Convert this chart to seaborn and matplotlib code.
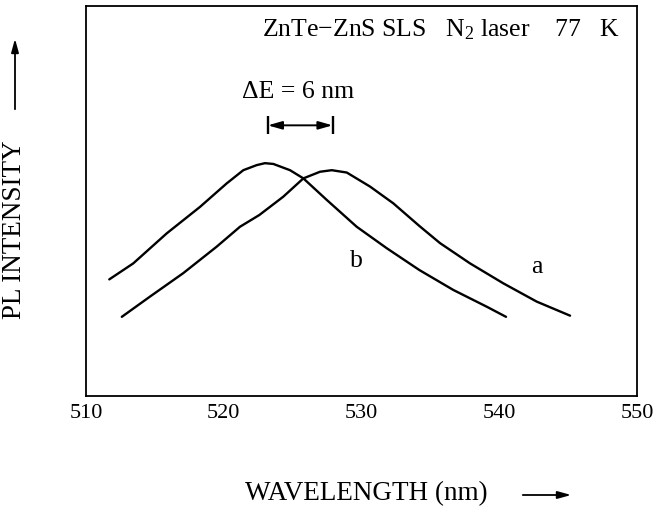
import matplotlib
matplotlib.use("Agg")
import matplotlib.pyplot as plt
import seaborn as sns
import pandas as pd

# ---- data ----
wl_a = [512.6, 514.65, 517.06, 519.49, 521.18, 522.58, 524.32, 525.78, 526.99, 527.84,
        528.93, 530.62, 532.31, 534.2, 535.7, 537.88, 540.29, 542.72, 545.14]
pl_a = [20.3, 25.5, 31.5, 38.3, 43.4, 46.4, 51.1, 55.8, 57.5, 57.9,
        57.3, 53.7, 49.4, 43.6, 39.2, 34.0, 28.9, 24.2, 20.6]
wl_b = [511.69, 513.43, 515.86, 518.28, 520.21, 521.42, 522.39, 522.99, 523.6, 524.81,
        525.78, 527.47, 529.65, 531.83, 534.2, 536.66, 539.09, 540.49]
pl_b = [29.9, 34.0, 41.7, 48.5, 54.5, 57.9, 59.2, 59.7, 59.5, 57.9,
        55.8, 50.3, 43.4, 37.9, 32.3, 27.2, 22.9, 20.3]
x_ticks = [510, 520, 530, 540, 550]
delta_left, delta_right = 523.2, 527.9
curve_labels = ["a", "b"]

df = pd.concat([
    pd.DataFrame({"wavelength": wl_a, "intensity": pl_a, "curve": "a"}),
    pd.DataFrame({"wavelength": wl_b, "intensity": pl_b, "curve": "b"}),
])

sns.set_theme(style="white")
plt.rcParams["font.family"] = ["Liberation Serif", "DejaVu Serif"]
plt.rcParams["mathtext.fontset"] = "custom"
plt.rcParams["mathtext.rm"] = "Liberation Serif"
plt.rcParams["mathtext.it"] = "Liberation Serif:italic"

fig = plt.figure(figsize=(6.53, 5.12), dpi=100)
ax = fig.add_axes([86 / 653, 1 - 396 / 512, 551 / 653, 390 / 512])

sns.lineplot(data=df, x="wavelength", y="intensity", units="curve", estimator=None,
             sort=False, color="black", linewidth=1.7, ax=ax)

ax.set_xlim(510, 550)
ax.set_ylim(0, 100)
ax.set_xticks(x_ticks)
ax.set_xticklabels([str(t) for t in x_ticks], fontsize=16)
ax.set_yticks([])
ax.tick_params(axis="x", direction="in", length=4, width=1.2, pad=6, colors="black")
for s in ax.spines.values():
    s.set_visible(True)
    s.set_color("black")
    s.set_linewidth(1.3)

ax.set_xlabel("WAVELENGTH (nm)", fontsize=19.5, va="center", color="black")
ax.xaxis.set_label_coords(0.508, -0.251)
ax.set_ylabel("PL INTENSITY", fontsize=19.5, va="center", ha="center", color="black")
ax.yaxis.set_label_coords(-0.129, 0.426)

# axis arrows
fig.add_artist(matplotlib.patches.FancyArrowPatch(
    (520 / 653, 1 - 495 / 512), (574 / 653, 1 - 495 / 512), transform=fig.transFigure,
    arrowstyle="-|>,head_length=8,head_width=2.2", color="black", lw=1.3))
fig.add_artist(matplotlib.patches.FancyArrowPatch(
    (15 / 653, 1 - 112 / 512), (15 / 653, 1 - 36 / 512), transform=fig.transFigure,
    arrowstyle="-|>,head_length=8,head_width=2.2", color="black", lw=1.3))

# title-like annotation
ax.text(0.969, 0.938, "ZnTe\u2212ZnS SLS   N$_\\mathrm{2}$ laser    77   K",
        transform=ax.transAxes, ha="right", va="center", fontsize=18.5, color="black")

# delta E marker
ax.text(521.3, 78.0, "\u0394E = 6 nm", ha="left", va="center", fontsize=18.5, color="black")
ax.vlines([delta_left, delta_right], 67.3, 71.7, color="black", lw=1.7)
ax.annotate("", xy=(delta_left, 69.4), xytext=(delta_right, 69.4),
            arrowprops=dict(arrowstyle="<|-|>,head_length=0.7,head_width=0.2",
                            color="black", lw=1.4, shrinkA=0, shrinkB=0))

# curve labels
ax.text(542.7, 33.1, curve_labels[0], ha="center", va="center", fontsize=18.5, color="black")
ax.text(529.65, 34.5, curve_labels[1], ha="center", va="center", fontsize=18.5, color="black")

fig.savefig("out.png", dpi=100)
